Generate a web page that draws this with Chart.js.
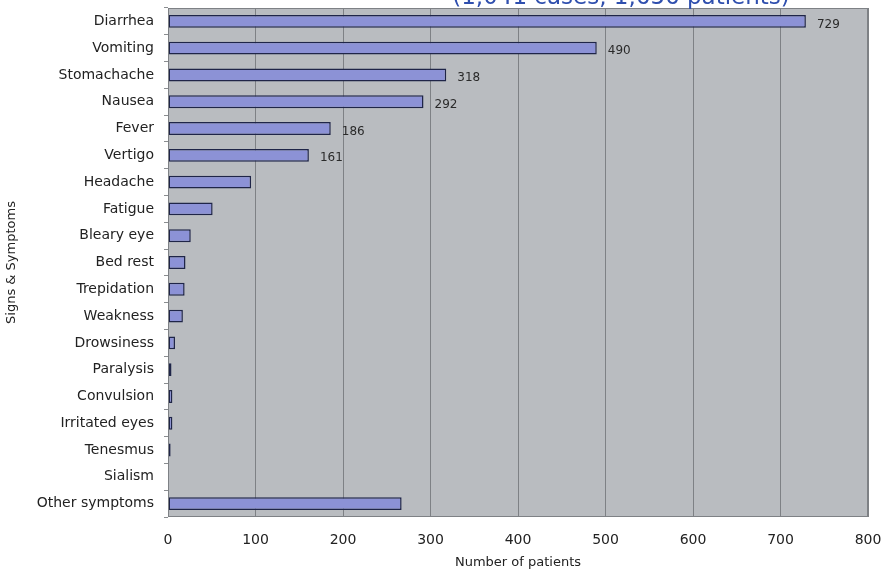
<!DOCTYPE html>
<html>
<head>
<meta charset="utf-8">
<script src="https://cdn.jsdelivr.net/npm/chart.js@4/dist/chart.umd.min.js"></script>
<style>
  html, body { margin: 0; padding: 0; background: #fff; }
  #wrap { width: 886px; height: 570px; position: relative; }
</style>
</head>
<body>
<div id="wrap"><canvas id="chart"></canvas></div>
<script>
// ===== DATA =====
const symptoms = ["Diarrhea", "Vomiting", "Stomachache", "Nausea", "Fever", "Vertigo",
    "Headache", "Fatigue", "Bleary eye", "Bed rest", "Trepidation", "Weakness",
    "Drowsiness", "Paralysis", "Convulsion", "Irritated eyes", "Tenesmus", "Sialism",
    "Other symptoms"];
const patients = [729, 490, 318, 292, 186, 161, 95, 51, 26, 20, 19, 17, 8, 4, 5, 5, 3, 0, 267];
// only the biggest bars carry a number
const shownLabels = ["729", "490", "318", "292", "186", "161"];
const xTicks = [0, 100, 200, 300, 400, 500, 600, 700, 800];
const subtitle = "(1,041 cases, 1,656 patients)";

const FONT = "'DejaVu Sans', sans-serif";

// ===== PLUGINS =====
const plotBg = {
    id: "plotBg",
    beforeDraw(chart){
        const {ctx, chartArea: a} = chart;
        ctx.save();
        ctx.fillStyle = "#b9bcc0";
        ctx.fillRect(a.left, a.top, a.right - a.left, a.bottom - a.top);
        ctx.restore();
    },
    afterDatasetsDraw(chart){
        const {ctx, chartArea: a} = chart;
        ctx.save();
        ctx.strokeStyle = "#7e8185";
        ctx.lineWidth = 1;
        ctx.strokeRect(a.left + 0.5, a.top + 0.5, a.right - a.left - 1, a.bottom - a.top - 1);
        ctx.restore();
    }
};

const valueLabels = {
    id: "valueLabels",
    afterDatasetsDraw(chart){
        const {ctx} = chart;
        const bars = chart.getDatasetMeta(0).data;
        ctx.save();
        ctx.font = "12px " + FONT;
        ctx.fillStyle = "#2a2a2a";
        ctx.textBaseline = "middle";
        shownLabels.forEach((txt, i) => {
            const b = bars[i];
            ctx.fillText(txt, b.x + 11, b.y + 3);
        });
        ctx.restore();
    }
};

const topTitle = {
    id: "topTitle",
    afterDraw(chart){
        const {ctx} = chart;
        ctx.save();
        ctx.font = "23px " + FONT;
        ctx.fillStyle = "#2f4fae";
        ctx.textAlign = "center";
        ctx.textBaseline = "alphabetic";
        ctx.fillText(subtitle, 621, 4);
        ctx.restore();
    }
};

// ===== CHART =====
new Chart(document.getElementById("chart"), {
    type: "bar",
    data: {
        labels: symptoms,
        datasets: [{
            data: patients,
            backgroundColor: "#8c92d6",
            borderColor: "#1f2548",
            borderWidth: 1.5,
            borderSkipped: false,
            barPercentage: 0.48,
            categoryPercentage: 1
        }]
    },
    options: {
        indexAxis: "y",
        responsive: true,
        maintainAspectRatio: false,
        animation: false,
        layout: { padding: { top: 8, right: 18, left: 0, bottom: 0 } },
        plugins: {
            legend: { display: false },
            tooltip: { enabled: false }
        },
        scales: {
            x: {
                min: 0,
                max: 800,
                afterBuildTicks: s => { s.ticks = xTicks.map(v => ({ value: v })); },
                afterFit: s => { s.height = 53; s.paddingRight = 0; s.paddingLeft = 0; },
                grid: { color: "#7e8185", lineWidth: 1, drawTicks: false },
                border: { display: false },
                ticks: { color: "#222", font: { family: FONT, size: 14 }, padding: 15 },
                title: {
                    display: true,
                    text: "Number of patients",
                    color: "#222",
                    font: { family: FONT, size: 13 },
                    padding: { top: 2, bottom: 0 }
                }
            },
            y: {
                afterFit: s => { s.width = 168; s.paddingTop = 0; s.paddingBottom = 0; },
                grid: { drawOnChartArea: false, drawTicks: true, tickLength: 4, color: "#8a8d90" },
                border: { display: false },
                ticks: { color: "#222", font: { family: FONT, size: 14 }, padding: 10 },
                title: {
                    display: true,
                    text: "Signs & Symptoms",
                    color: "#222",
                    font: { family: FONT, size: 13 },
                    padding: { top: 4, bottom: 0 }
                }
            }
        }
    },
    plugins: [plotBg, valueLabels, topTitle]
});
</script>
</body>
</html>
